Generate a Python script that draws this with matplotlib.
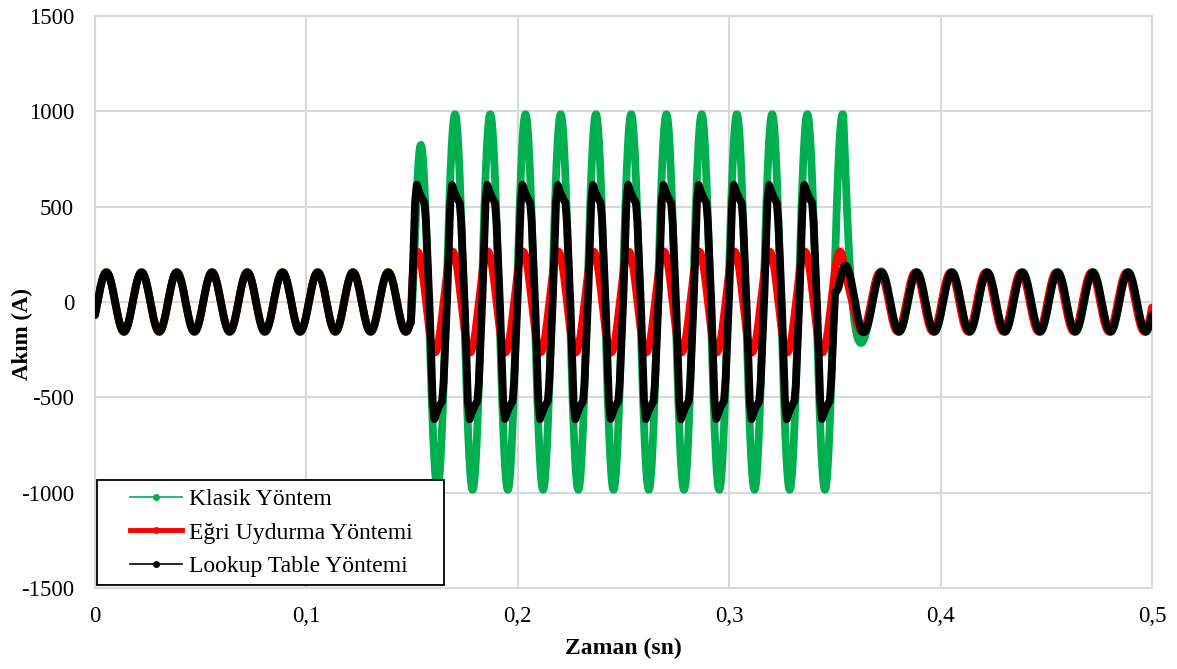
import numpy as np
import matplotlib.pyplot as plt
from matplotlib.lines import Line2D
from matplotlib.legend_handler import HandlerLine2D

plt.rcParams['font.family'] = ['Liberation Serif', 'DejaVu Serif']
plt.rcParams['axes.unicode_minus'] = False

# Seri bilgileri
series_names = ['Klasik Yöntem', 'Eğri Uydurma Yöntemi', 'Lookup Table Yöntemi']
series_colors = ['#00b050', '#ff0000', '#000000']

f_hz = 60.0
t_start, t_end, dt = 0.0, 0.5, 0.00005
t_fault_on = 0.1494
t_fault_off = [0.3540, 0.3535, 0.3500]

pre_amp = [158, 155, 155]          # arıza öncesi tepe (A)
post_amp = [158, 155, 155]         # arıza sonrası tepe (A)
post_excess = [0, 0, 130]          # arıza sonrası geçici ek tepe (A)
fault_amp = [985, 265, 615]        # arıza sırasında tepe (A)
pre_peak = [0.00536, 0.00536, 0.00536]   # tepe anı (periyoda göre)
post_peak = [0.00536, 0.00466, 0.00536]
fault_peak = [0.00363, 0.00243, 0.00220]
tau_on = [0.0027, 0.0005, 0.000001]
tau_off = [0.0035, 0.0030, 0.0006]
tau_excess = 0.004

# Lookup table yöntemi: yarım periyot dalga şekli (faz, birim tepe)
lookup_phase = [0.00, 0.04, 0.12, 0.22, 0.26, 0.36, 0.45, 0.50]
lookup_value = [1.00, 0.96, 0.90, 0.845, 0.70, 0.0, -0.845, -1.00]

period = 1.0 / f_hz
t = np.arange(t_start, t_end + dt / 2, dt)


def sine(peak_time, amp):
    return amp * np.cos(2 * np.pi * (t - peak_time) / period)


def lookup(peak_time, amp):
    ph = ((t - peak_time) / period) % 1.0
    half = ph % 0.5
    sign = np.where(ph < 0.5, 1.0, -1.0)
    return amp * sign * np.interp(half, lookup_phase, lookup_value)


def build(i):
    pre = sine(pre_peak[i], pre_amp[i])
    since_off = np.clip(t - t_fault_off[i], 0, None)
    amp_post = post_amp[i] + post_excess[i] * np.exp(-since_off / tau_excess)
    post = sine(post_peak[i], 1.0) * amp_post
    if i == 2:
        fault = lookup(fault_peak[i], fault_amp[i])
    else:
        fault = sine(fault_peak[i], fault_amp[i])
    w_on = np.where(t >= t_fault_on, 1 - np.exp(-np.clip(t - t_fault_on, 0, None) / tau_on[i]), 0.0)
    w_off = np.where(t >= t_fault_off[i], np.exp(-since_off / tau_off[i]), 1.0)
    w = w_on * w_off
    base = np.where(t < t_fault_off[i], pre, post)
    return w * fault + (1 - w) * base


fig = plt.figure(figsize=(11.77, 6.69), dpi=100)
ax = fig.add_axes([95 / 1177, 81 / 669, 1057 / 1177, 572 / 669])

for i in range(3):
    ax.plot(t, build(i), color=series_colors[i], lw=5.6,
            solid_joinstyle='round', solid_capstyle='round', zorder=2 + i)

ax.set_xlim(0, 0.5)
ax.set_ylim(-1500, 1500)
xt = [0, 0.1, 0.2, 0.3, 0.4, 0.5]
ax.set_xticks(xt)
ax.set_xticklabels(['0', '0,1', '0,2', '0,3', '0,4', '0,5'])
ax.set_yticks(np.arange(-1500, 1501, 500))
ax.tick_params(length=0, labelsize=16.5, colors='black')
ax.tick_params(axis='y', pad=15)
ax.tick_params(axis='x', pad=13)
ax.grid(True, color='#d9d9d9', lw=1.5)
ax.set_axisbelow(True)
for s in ax.spines.values():
    s.set_color('#d9d9d9')
    s.set_linewidth(1.5)

fig.text(0.019, 0.5, 'Akım (A)', rotation=90,
         ha='center', va='center', fontsize=16.5, fontweight='bold')
fig.text(623 / 1177, 21 / 669, 'Zaman (sn)', ha='center', va='center',
         fontsize=17, fontweight='bold')

handles = [
    Line2D([], [], color=series_colors[0], lw=1.2, marker='o', ms=4),
    Line2D([], [], color=series_colors[1], lw=3.5, marker='o', ms=4),
    Line2D([], [], color=series_colors[2], lw=1.2, marker='o', ms=4),
]
leg = ax.legend(handles, series_names, loc='lower left',
                bbox_to_anchor=(0.002, 0.005, 0.328, 0.185), mode='expand',
                borderaxespad=0, fontsize=17, frameon=True, fancybox=False,
                handlelength=3.25, handletextpad=0.3, labelspacing=0.5,
                borderpad=0.35,
                handler_map={Line2D: HandlerLine2D(xpad=1.05)})
leg.get_frame().set_edgecolor('black')
leg.get_frame().set_linewidth(1.3)
leg.get_frame().set_alpha(1)
leg.set_zorder(10)

plt.savefig('out.png', dpi=100)
